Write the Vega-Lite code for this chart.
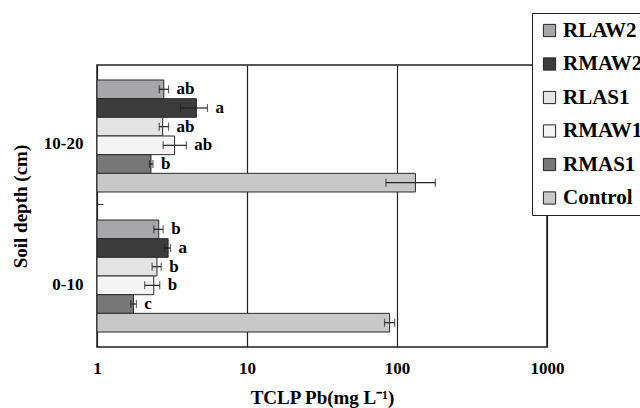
{
  "$schema": "https://vega.github.io/schema/vega-lite/v6.json",
  "width": 450,
  "height": 282,
  "autosize": "none",
  "padding": {"left": 97, "top": 65, "right": 93, "bottom": 61},
  "background": "white",
  "data": {
    "values": [
      {"depth": "10-20", "treatment": "RLAW2", "value": 2.79, "lo": 2.6, "hi": 3.0, "letter": "ab"},
      {"depth": "10-20", "treatment": "RMAW2", "value": 4.6, "lo": 3.6, "hi": 5.45, "letter": "a"},
      {"depth": "10-20", "treatment": "RLAS1", "value": 2.74, "lo": 2.6, "hi": 3.0, "letter": "ab"},
      {"depth": "10-20", "treatment": "RMAW1", "value": 3.29, "lo": 2.76, "hi": 3.94, "letter": "ab"},
      {"depth": "10-20", "treatment": "RMAS1", "value": 2.29, "lo": 2.24, "hi": 2.36, "letter": "b"},
      {"depth": "10-20", "treatment": "Control", "value": 132.7, "lo": 84.4, "hi": 180, "letter": ""},
      {"depth": "0-10", "treatment": "RLAW2", "value": 2.58, "lo": 2.39, "hi": 2.76, "letter": "b"},
      {"depth": "0-10", "treatment": "RMAW2", "value": 2.98, "lo": 2.82, "hi": 3.09, "letter": "a"},
      {"depth": "0-10", "treatment": "RLAS1", "value": 2.51, "lo": 2.33, "hi": 2.68, "letter": "b"},
      {"depth": "0-10", "treatment": "RMAW1", "value": 2.39, "lo": 2.08, "hi": 2.62, "letter": "b"},
      {"depth": "0-10", "treatment": "RMAS1", "value": 1.75, "lo": 1.68, "hi": 1.83, "letter": "c"},
      {"depth": "0-10", "treatment": "Control", "value": 89.3, "lo": 82.6, "hi": 96.5, "letter": ""}
    ]
  },
  "encoding": {
    "y": {
      "field": "depth",
      "type": "nominal",
      "scale": {"domain": ["10-20", "0-10"], "paddingInner": 0.2, "paddingOuter": 0.107},
      "axis": {
        "title": "Soil depth (cm)",
        "titleFont": "Liberation Serif",
        "titleFontSize": 19,
        "titleFontWeight": "bold",
        "titleColor": "black",
        "titlePadding": 13,
        "labelFont": "Liberation Serif",
        "labelFontSize": 17,
        "labelFontWeight": "bold",
        "labelColor": "black",
        "labelPadding": 20,
        "labelOffset": -60,
        "labelAngle": 0,
        "domain": false,
        "tickSize": -6,
        "tickOffset": 68,
        "tickColor": "#222",
        "tickWidth": 1.2,
        "tickOpacity": {"condition": {"test": "datum.value === '0-10'", "value": 0}, "value": 1}
      }
    },
    "yOffset": {
      "field": "treatment",
      "type": "nominal",
      "scale": {"domain": ["RLAW2", "RMAW2", "RLAS1", "RMAW1", "RMAS1", "Control"], "paddingInner": 0, "paddingOuter": 0}
    }
  },
  "layer": [
    {
      "mark": {"type": "bar", "stroke": "#2a2a2a", "strokeWidth": 1},
      "encoding": {
        "x": {
          "field": "value",
          "type": "quantitative",
          "scale": {"type": "log", "domain": [1, 1000], "nice": false},
          "axis": {
            "title": "TCLP Pb(mg L⁻¹)",
            "titleFont": "Liberation Serif",
            "titleFontSize": 19,
            "titleFontWeight": "bold",
            "titleColor": "black",
            "titlePadding": 12,
            "values": [1, 10, 100, 1000],
            "format": "d",
            "labelFont": "Liberation Serif",
            "labelFontSize": 17,
            "labelFontWeight": "bold",
            "labelColor": "black",
            "labelPadding": 13,
            "labelFlush": false,
            "ticks": false,
            "domain": false,
            "grid": true,
            "gridColor": "#222",
            "gridWidth": 1.2,
            "gridOpacity": 1
          }
        },
        "x2": {"datum": 1},
        "color": {
          "field": "treatment",
          "type": "nominal",
          "scale": {
            "domain": ["RLAW2", "RMAW2", "RLAS1", "RMAW1", "RMAS1", "Control"],
            "range": ["#a7a7aa", "#3c3c3c", "#e3e3e3", "#f4f4f4", "#777777", "#c8c8c8"]
          },
          "legend": {
            "title": null,
            "orient": "none",
            "legendX": 435,
            "legendY": -52,
            "symbolType": "square",
            "symbolSize": 150,
            "symbolStrokeColor": "#222",
            "symbolStrokeWidth": 1,
            "symbolOpacity": 1,
            "labelFont": "Liberation Serif",
            "labelFontSize": 21,
            "labelFontWeight": "bold",
            "labelColor": "black",
            "labelOffset": 3,
            "labelLimit": 200,
            "rowPadding": 11.5,
            "padding": 7,
            "strokeColor": "#222",
            "fillColor": "white"
          }
        }
      }
    },
    {
      "mark": {"type": "rule", "color": "#222", "strokeWidth": 1.2},
      "encoding": {
        "x": {"field": "lo", "type": "quantitative"},
        "x2": {"field": "hi"}
      }
    },
    {
      "mark": {"type": "tick", "color": "#222", "thickness": 1.2, "size": 8},
      "encoding": {
        "x": {"field": "lo", "type": "quantitative"}
      }
    },
    {
      "mark": {"type": "tick", "color": "#222", "thickness": 1.2, "size": 8},
      "encoding": {
        "x": {"field": "hi", "type": "quantitative"}
      }
    },
    {
      "mark": {"type": "text", "align": "left", "baseline": "middle", "dx": 8, "font": "Liberation Serif", "fontSize": 17, "fontWeight": "bold", "color": "black"},
      "encoding": {
        "x": {"field": "hi", "type": "quantitative"},
        "text": {"field": "letter"}
      }
    }
  ],
  "config": {
    "view": {"stroke": "#222", "strokeWidth": 1.5}
  }
}
